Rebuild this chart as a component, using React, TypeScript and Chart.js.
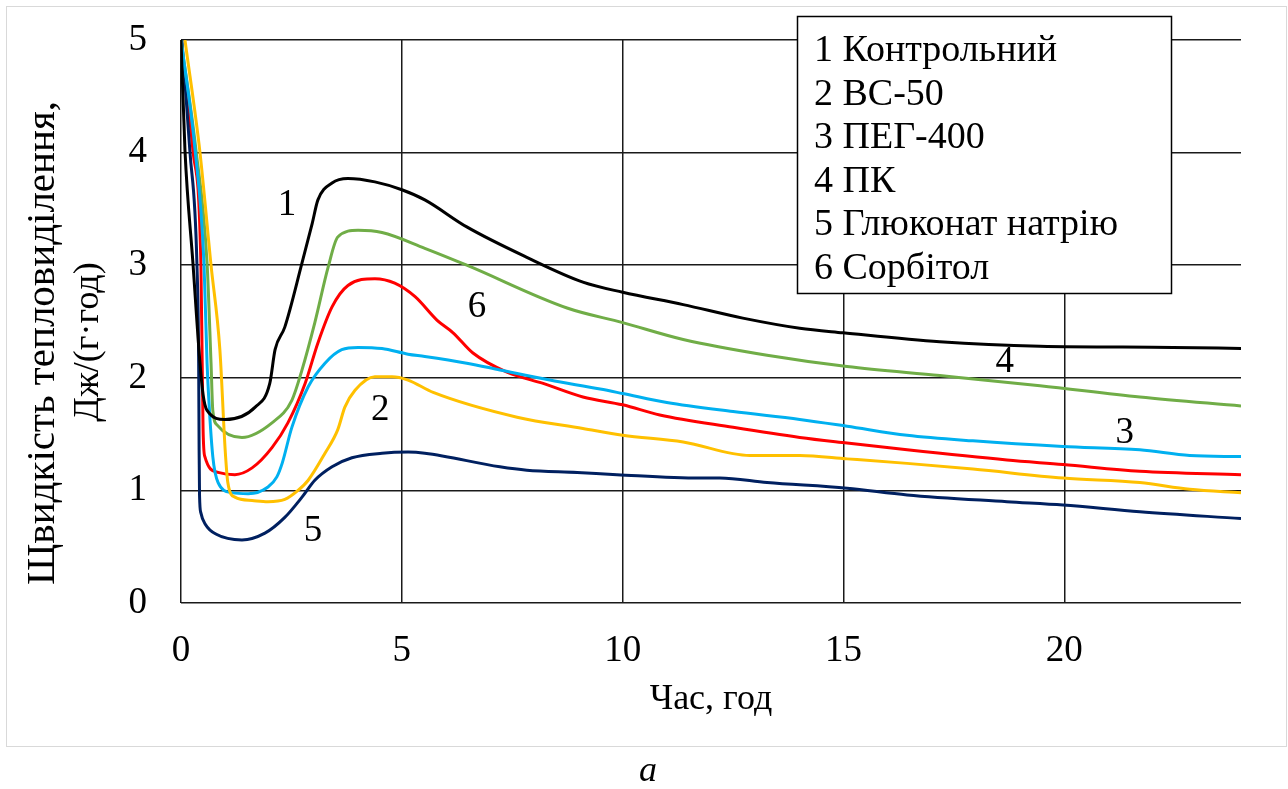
import React, { useEffect, useRef } from "react";
import { Chart, registerables } from "chart.js";

Chart.register(...registerables);

// ---- Data ----
const seriesNames = [
  "1 Контрольний",
  "2 ВС-50",
  "3 ПЕГ-400",
  "4 ПК",
  "5 Глюконат натрію",
  "6 Сорбітол",
];
const seriesColors = ["#000000", "#FFC000", "#00B0F0", "#70AD47", "#002060", "#FF0000"];

// 1 Контрольний
const t1 = [0, 0.09, 0.27, 0.43, 0.5, 0.59, 1.0, 1.68, 2.01, 2.13, 2.35, 2.74, 2.97, 3.1, 3.42, 3.78, 4.39, 5.0, 5.52, 6.47, 7.83, 9.1, 10.0, 11.37, 12.72, 14.01, 14.99, 17.18, 19.45, 22.46, 24];
const v1 = [5.0, 4.02, 3.02, 2.13, 1.85, 1.71, 1.63, 1.74, 1.95, 2.25, 2.45, 3.02, 3.37, 3.58, 3.73, 3.77, 3.74, 3.67, 3.58, 3.34, 3.07, 2.85, 2.76, 2.65, 2.53, 2.44, 2.4, 2.32, 2.28, 2.27, 2.26];

// 2 ВС-50
const t2 = [0.09, 0.43, 0.68, 0.88, 1.0, 1.06, 1.22, 1.61, 1.97, 2.35, 2.65, 2.88, 3.26, 3.55, 3.71, 3.94, 4.39, 4.78, 5.14, 5.71, 7.61, 9.1, 10.0, 11.37, 12.88, 14.01, 15.08, 16.44, 17.93, 19.97, 21.71, 22.84, 24];
const v2 = [5.0, 4.0, 3.0, 2.25, 1.36, 1.07, 0.94, 0.91, 0.9, 0.92, 1.0, 1.09, 1.33, 1.54, 1.74, 1.89, 2.01, 2.01, 1.98, 1.87, 1.65, 1.55, 1.49, 1.43, 1.31, 1.31, 1.28, 1.24, 1.19, 1.11, 1.07, 1.01, 0.98];

// 3 ПЕГ-400
const t3 = [0, 0.32, 0.52, 0.59, 0.61, 0.72, 0.84, 1.15, 1.52, 1.97, 2.17, 2.29, 2.51, 2.88, 3.26, 3.64, 4.01, 4.55, 5.14, 5.52, 6.47, 7.22, 8.35, 9.49, 10.0, 11.0, 12.5, 14.01, 15.08, 16.44, 17.93, 19.97, 21.71, 22.84, 24];
const v3 = [5.0, 4.02, 3.02, 2.13, 1.95, 1.3, 1.07, 0.98, 0.97, 1.03, 1.12, 1.24, 1.56, 1.92, 2.13, 2.25, 2.27, 2.26, 2.21, 2.19, 2.13, 2.07, 1.98, 1.9, 1.86, 1.78, 1.7, 1.63, 1.57, 1.49, 1.44, 1.39, 1.36, 1.31, 1.3];

// 4 ПК
const t4 = [0, 0.34, 0.59, 0.68, 0.72, 0.82, 1.38, 2.06, 2.51, 2.74, 3.03, 3.33, 3.55, 4.01, 4.55, 5.52, 6.47, 8.74, 10.0, 11.37, 13.27, 15.08, 17.18, 19.45, 21.71, 24];
const v4 = [5.0, 4.02, 3.02, 2.13, 1.71, 1.58, 1.47, 1.6, 1.8, 2.07, 2.49, 2.98, 3.25, 3.31, 3.29, 3.15, 3.0, 2.62, 2.49, 2.34, 2.2, 2.1, 2.02, 1.93, 1.83, 1.75];

// 5 Глюконат натрію
const t5 = [0.02, 0.2, 0.36, 0.4, 0.41, 0.42, 0.45, 0.55, 0.8, 1.38, 1.9, 2.35, 2.74, 3.03, 3.42, 3.87, 4.55, 5.14, 5.52, 7.22, 7.83, 8.97, 9.87, 11.75, 12.2, 13.27, 15.08, 16.44, 18.7, 19.97, 21.71, 24];
const v5 = [5.0, 4.02, 3.02, 2.13, 1.36, 0.95, 0.8, 0.7, 0.61, 0.56, 0.62, 0.76, 0.94, 1.09, 1.21, 1.29, 1.33, 1.34, 1.33, 1.21, 1.18, 1.16, 1.14, 1.11, 1.11, 1.07, 1.02, 0.96, 0.9, 0.87, 0.81, 0.75];

// 6 Сорбітол
const t6 = [0, 0.27, 0.45, 0.48, 0.5, 0.54, 0.84, 1.22, 1.61, 2.06, 2.42, 2.81, 3.1, 3.42, 3.78, 4.39, 4.84, 5.3, 5.8, 6.16, 6.61, 7.38, 8.2, 9.1, 10.0, 10.84, 12.5, 14.01, 15.08, 16.44, 18.7, 19.97, 21.71, 24];
const v6 = [5.0, 4.02, 3.02, 2.13, 1.54, 1.3, 1.16, 1.14, 1.2, 1.38, 1.6, 1.95, 2.31, 2.63, 2.82, 2.88, 2.84, 2.72, 2.51, 2.4, 2.22, 2.05, 1.95, 1.83, 1.76, 1.67, 1.56, 1.47, 1.42, 1.36, 1.27, 1.23, 1.17, 1.14];

const seriesT = [t1, t2, t3, t4, t5, t6];
const seriesV = [v1, v2, v3, v4, v5, v6];

// Axis
const xMin = 0;
const xMax = 24;
const xStep = 5;
const yMin = 0;
const yMax = 5;
const yStep = 1;
const xTitle = "Час, год";
const yTitleLines = ["Щвидкість тепловиділення,", "Дж/(г·год)"];
const caption = "а";

// Curve number annotations (data coordinates)
const curveLabelText = ["1", "2", "3", "4", "5", "6"];
const curveLabelX = [2.4, 4.51, 21.37, 18.65, 2.99, 6.7];
const curveLabelY = [3.53, 1.71, 1.51, 2.14, 0.64, 2.63];

const FONT = "'Liberation Serif', 'Times New Roman', serif";

const decorPlugin = {
  id: "decor",
  beforeDraw(chart: any) {
    const ctx = chart.ctx;
    ctx.save();
    ctx.fillStyle = "#ffffff";
    ctx.fillRect(0, 0, chart.width, chart.height);
    ctx.strokeStyle = "#d9d9d9";
    ctx.lineWidth = 1;
    ctx.strokeRect(6.5, 6.5, 1280, 740);
    ctx.restore();
  },
  afterDraw(chart: any) {
    const ctx = chart.ctx;
    const xs = chart.scales.x;
    const ys = chart.scales.y;
    const area = chart.chartArea;
    ctx.save();
    ctx.fillStyle = "#000";
    ctx.textBaseline = "middle";
    ctx.textAlign = "center";
    ctx.font = `37px ${FONT}`;
    // curve labels
    curveLabelText.forEach((t, i) => {
      ctx.fillText(t, xs.getPixelForValue(curveLabelX[i]), ys.getPixelForValue(curveLabelY[i]));
    });
    // x title
    ctx.font = `36px ${FONT}`;
    ctx.fillText(xTitle, (area.left + area.right) / 2, 700);
    // y title
    ctx.save();
    ctx.translate(43, 343);
    ctx.rotate(-Math.PI / 2);
    ctx.font = `41px ${FONT}`;
    ctx.fillText(yTitleLines[0], 0, 0);
    ctx.restore();
    ctx.save();
    ctx.translate(89, 342);
    ctx.rotate(-Math.PI / 2);
    ctx.font = `36px ${FONT}`;
    ctx.fillText(yTitleLines[1], 0, 0);
    ctx.restore();
    // caption
    ctx.font = `italic 36px ${FONT}`;
    ctx.fillText(caption, 648, 772);
    // legend box
    const bx = 797, by = 16, bw = 374, bh = 277;
    ctx.fillStyle = "#fff";
    ctx.fillRect(bx, by, bw, bh);
    ctx.strokeStyle = "#000";
    ctx.lineWidth = 1.5;
    ctx.strokeRect(bx + 0.5, by + 0.5, bw, bh);
    ctx.fillStyle = "#000";
    ctx.textAlign = "left";
    ctx.font = `38px ${FONT}`;
    seriesNames.forEach((n, i) => {
      ctx.fillText(n, 814, 51 + i * 43.6);
    });
    ctx.restore();
  },
};

export default function App() {
  const ref = useRef<HTMLCanvasElement | null>(null);
  useEffect(() => {
    if (!ref.current) return;
    const datasets = seriesNames.map((name, i) => ({
      label: name,
      data: seriesT[i].map((x, j) => ({ x, y: seriesV[i][j] })),
      borderColor: seriesColors[i],
      backgroundColor: seriesColors[i],
      borderWidth: 3,
      pointRadius: 0,
      fill: false,
      cubicInterpolationMode: "monotone" as const,
    }));
    const gridCommon = { color: "#1a1a1a", lineWidth: 1.5, drawTicks: false };
    const chart = new Chart(ref.current, {
      type: "line",
      data: { datasets },
      options: {
        animation: false,
        responsive: false,
        layout: { padding: { top: 40, right: 47, left: 0, bottom: 0 } },
        plugins: { legend: { display: false }, tooltip: { enabled: false } },
        scales: {
          x: {
            type: "linear",
            min: xMin,
            max: xMax,
            ticks: {
              stepSize: xStep,
              padding: 26,
              color: "#000",
              maxRotation: 0,
              font: { family: FONT, size: 37 },
            },
            afterBuildTicks: (s: any) => {
              s.ticks = s.ticks.filter((t: any) => t.value % xStep === 0);
            },
            afterFit: (s: any) => {
              s.height = 186;
              s.paddingLeft = 0;
              s.paddingRight = 0;
            },
            grid: gridCommon,
            border: { display: false },
          },
          y: {
            type: "linear",
            min: yMin,
            max: yMax,
            ticks: {
              stepSize: yStep,
              padding: 34,
              color: "#000",
              font: { family: FONT, size: 37 },
            },
            afterFit: (s: any) => {
              s.width = 181;
              s.paddingTop = 0;
              s.paddingBottom = 0;
            },
            grid: gridCommon,
            border: { display: false },
          },
        },
      },
      plugins: [decorPlugin],
    });
    return () => chart.destroy();
  }, []);
  return (
    <div style={{ position: "absolute", left: 0, top: 0, width: 1288, height: 789, background: "#fff" }}>
      <canvas ref={ref} width={1288} height={789} />
    </div>
  );
}
